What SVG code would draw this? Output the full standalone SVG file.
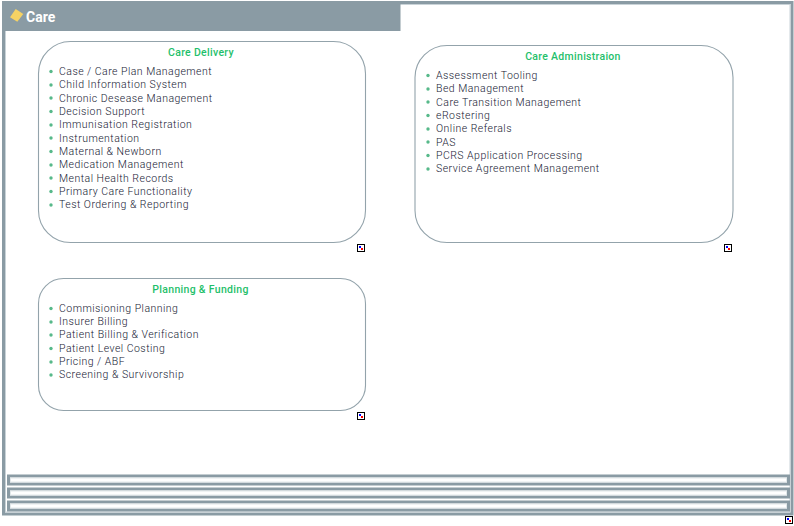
<svg xmlns="http://www.w3.org/2000/svg" width="794" height="526" viewBox="0 0 794 526">
<defs>
<g id="mark"><rect x="0.500" y="0.500" width="7" height="7" fill="#fff" stroke="#000"/><rect x="2" y="2" width="2" height="2" fill="#00f"/><rect x="4" y="4" width="2" height="2" fill="#f00"/></g>
</defs>
<style>
.card{fill:#fff;stroke:#93a3ab;stroke-width:1.1}
.frame{fill:#fff;stroke:#8a9ba4;stroke-width:3}
.lite{fill:none;stroke:#c9d3d8;stroke-width:1}
.lite2{fill:none;stroke:#e2e8ea;stroke-width:1}
.h{font:500 10.5px Roboto,"Liberation Sans",sans-serif;fill:#1fbf6b;text-anchor:middle;letter-spacing:.3px}
.t{font:300 10.5px Roboto,"Liberation Sans",sans-serif;fill:#162033;letter-spacing:.47px}
.b{fill:#57b98a}
</style>
<rect width="794" height="526" fill="#fff"/>
<g id="outer">
<rect x="3.500" y="2.500" width="788.500" height="511.500" fill="#fff" stroke="#8a9ba4" stroke-width="3"/>
<rect class="lite" x="5.500" y="4.500" width="784.500" height="507.500"/>
<rect x="4" y="3" width="396.500" height="28" fill="#8a9ba4"/>
<polygon points="15.700,9 23.300,14 17.300,21.700 10,17.300" fill="#f5d264"/>
<text x="26" y="22" font-family="Roboto,'Liberation Sans',sans-serif" font-size="14" font-weight="700" fill="#fff">Care</text>
</g>
<g id="care-delivery">
<rect class="card" x="38.500" y="41.500" width="327" height="201" rx="32"/>
<text class="h" x="201" y="56">Care Delivery</text>
<g class="b"><circle cx="51" cy="71.500" r="1.700"/><circle cx="51" cy="85" r="1.700"/><circle cx="51" cy="98" r="1.700"/><circle cx="51" cy="111.500" r="1.700"/><circle cx="51" cy="125" r="1.700"/><circle cx="51" cy="138" r="1.700"/><circle cx="51" cy="151.500" r="1.700"/><circle cx="51" cy="165" r="1.700"/><circle cx="51" cy="178" r="1.700"/><circle cx="51" cy="191.500" r="1.700"/><circle cx="51" cy="205" r="1.700"/></g>
<text class="t" x="59" y="75">Case / Care Plan Management</text>
<text class="t" x="59" y="88">Child Information System</text>
<text class="t" x="59" y="102">Chronic Desease Management</text>
<text class="t" x="59" y="115">Decision Support</text>
<text class="t" x="59" y="128">Immunisation Registration</text>
<text class="t" x="59" y="142">Instrumentation</text>
<text class="t" x="59" y="155">Maternal &amp; Newborn</text>
<text class="t" x="59" y="168">Medication Management</text>
<text class="t" x="59" y="182">Mental Health Records</text>
<text class="t" x="59" y="195">Primary Care Functionality</text>
<text class="t" x="59" y="208">Test Ordering &amp; Reporting</text>
<use href="#mark" x="357" y="244"/>
</g>
<g id="care-administraion">
<rect class="card" x="415" y="45.500" width="318" height="197" rx="32"/>
<text class="h" x="573" y="60">Care Administraion</text>
<g class="b"><circle cx="428" cy="75.500" r="1.700"/><circle cx="428" cy="89" r="1.700"/><circle cx="428" cy="102" r="1.700"/><circle cx="428" cy="115.500" r="1.700"/><circle cx="428" cy="129" r="1.700"/><circle cx="428" cy="142" r="1.700"/><circle cx="428" cy="155.500" r="1.700"/><circle cx="428" cy="169" r="1.700"/></g>
<text class="t" x="436" y="79">Assessment Tooling</text>
<text class="t" x="436" y="92">Bed Management</text>
<text class="t" x="436" y="106">Care Transition Management</text>
<text class="t" x="436" y="119">eRostering</text>
<text class="t" x="436" y="132">Online Referals</text>
<text class="t" x="436" y="146">PAS</text>
<text class="t" x="436" y="159">PCRS Application Processing</text>
<text class="t" x="436" y="172">Service Agreement Management</text>
<use href="#mark" x="724" y="244"/>
</g>
<g id="planning-funding">
<rect class="card" x="38.500" y="278.500" width="327" height="132" rx="25"/>
<text class="h" x="200.500" y="293">Planning &amp; Funding</text>
<g class="b"><circle cx="51" cy="308.500" r="1.700"/><circle cx="51" cy="322" r="1.700"/><circle cx="51" cy="335" r="1.700"/><circle cx="51" cy="348.500" r="1.700"/><circle cx="51" cy="362" r="1.700"/><circle cx="51" cy="375" r="1.700"/></g>
<text class="t" x="59" y="312">Commisioning Planning</text>
<text class="t" x="59" y="325">Insurer Billing</text>
<text class="t" x="59" y="338">Patient Billing &amp; Verification</text>
<text class="t" x="59" y="352">Patient Level Costing</text>
<text class="t" x="59" y="365">Pricing / ABF</text>
<text class="t" x="59" y="378">Screening &amp; Survivorship</text>
<use href="#mark" x="357" y="412"/>
</g>
<g id="bars">
<rect class="frame" x="8.500" y="476" width="780" height="8"/>
<rect class="lite2" x="10.500" y="478" width="776" height="4"/>
<rect class="frame" x="8.500" y="489" width="780" height="8"/>
<rect class="lite2" x="10.500" y="491" width="776" height="4"/>
<rect class="frame" x="8.500" y="502" width="780" height="8"/>
<rect class="lite2" x="10.500" y="504" width="776" height="4"/>
</g>
<g id="connectors"/>
<use href="#mark" x="785" y="516"/>
</svg>
